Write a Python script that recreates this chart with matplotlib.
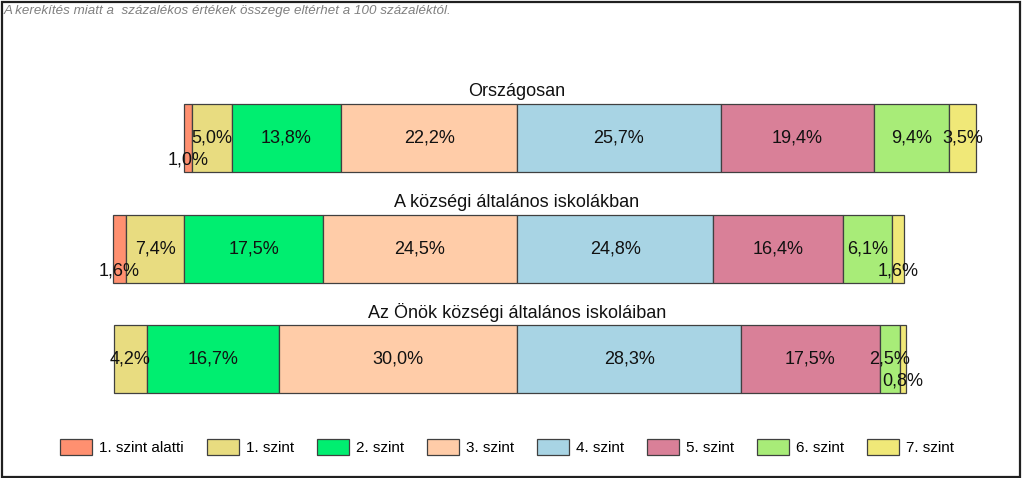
import matplotlib.pyplot as plt
from matplotlib.patches import Rectangle, Patch
import numpy as np

plt.rcParams['font.family'] = ['Liberation Sans', 'DejaVu Sans']

groups = ['Országosan', 'A községi általános iskolákban', 'Az Önök községi általános iskoláiban']
levels = ['1. szint alatti', '1. szint', '2. szint', '3. szint',
          '4. szint', '5. szint', '6. szint', '7. szint']
values = np.array([
    [1.0, 5.0, 13.8, 22.2, 25.7, 19.4, 9.4, 3.5],
    [1.6, 7.4, 17.5, 24.5, 24.8, 16.4, 6.1, 1.6],
    [0.0, 4.2, 16.7, 30.0, 28.3, 17.5, 2.5, 0.8],
])
colors = ['#FF9070', '#E8DC80', '#00EE70', '#FFCCA8',
          '#A8D4E4', '#D98098', '#A8EC78', '#F0E878']
note = 'A kerekítés miatt a  százalékos értékek összege eltérhet a 100 százaléktól.'

W, H = 1024, 478
fig = plt.figure(figsize=(W / 100, H / 100), dpi=100)
ax = fig.add_axes([0, 0, 1, 1])

# center of bars = boundary between 3. and 4. szint
px_per_pct = 7.92
cx = 517
ax.set_xlim(-cx / px_per_pct, (W - cx) / px_per_pct)
row_px = 110.5
top_px = 138
ax.set_ylim((H - top_px) / row_px, -top_px / row_px)
ax.axis('off')

bar_h = 68 / row_px
for i, row in enumerate(values):
    left = -row[:4].sum()
    for j, v in enumerate(row):
        if v > 0:
            ax.barh(i, v, left=left, height=bar_h, color=colors[j],
                    edgecolor='#404040', linewidth=0.9)
            lbl = f'{v:.1f}%'.replace('.', ',')
            dy = 0.2 if v < 2 else 0
            ax.text(left + v / 2, i + dy, lbl, ha='center', va='center',
                    fontsize=13, color='#111111')
        left += v
    ax.text(0, i - 0.42, groups[i], ha='center', va='center',
            fontsize=13, color='#111111')

handles = [Patch(facecolor=c, edgecolor='#404040', linewidth=0.9) for c in colors]
fig.legend(handles, levels, loc='center', bbox_to_anchor=(0.495, 1 - 447 / H),
           ncol=8, frameon=False, fontsize=11, handlelength=2.1,
           handleheight=1.25, handletextpad=0.45, columnspacing=1.5)

fig.text(4 / W, 1 - 11 / H, note, fontsize=9.6, style='italic', color='#808080',
         ha='left', va='center')

fig.add_artist(Rectangle((1.5 / W, 1.5 / H), 1018 / W, 475 / H,
                         transform=fig.transFigure, fill=False,
                         edgecolor='#202020', linewidth=1.6))

fig.savefig('out.png', dpi=100)
